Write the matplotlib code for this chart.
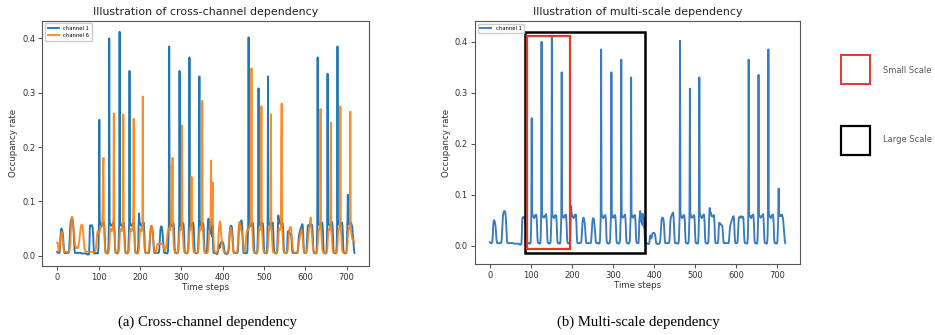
import numpy as np
import matplotlib
matplotlib.use("Agg")
import matplotlib.pyplot as plt
from matplotlib.patches import Rectangle

# Occupancy rate values in thousandths (one row = 24 time steps)
ch1_wk1 = [
    [7,6,5,5,5,5,6,15,35,46,50,49,47,44,38,28,15,7,5,5,5,5,5,5],
    [5,5,5,5,6,12,28,48,58,63,66,68,68,67,64,56,40,22,10,5,5,5,5,5],
    [5,5,5,5,5,5,5,5,5,5,4,4,4,4,4,4,4,4,4,4,4,4,4,3],
    [3,2,2,2,2,3,20,50,56,55,54,55,56,54,50,40,20,6,4,4,4,4,5,5],
    [5,4,4,5,18,55,250,66,60,58,57,55,54,56,58,60,58,61,55,40,15,6,5,5],
    [5,4,4,5,18,55,400,64,59,58,56,55,55,57,58,59,58,62,55,40,15,6,5,5],
    [5,4,4,5,8,30,58,412,65,59,57,56,54,55,57,59,58,60,56,42,16,6,5,5],
]
ch1_wk2 = [
    [5,4,4,5,8,30,58,340,63,58,57,55,55,56,58,60,57,61,56,42,16,6,5,5],
    [5,4,4,5,18,55,78,66,60,58,57,55,54,56,58,60,58,61,55,40,15,6,5,5],
    [5,5,5,5,5,5,6,10,22,38,48,54,55,54,50,44,35,22,10,5,5,5,5,5],
    [5,5,5,5,5,5,6,12,25,40,50,53,54,52,48,40,30,18,8,5,5,5,5,5],
    [5,4,4,5,8,30,58,385,65,59,57,56,54,55,57,59,58,60,56,42,16,6,5,5],
    [5,4,4,5,6,12,40,58,340,64,58,56,55,55,57,59,58,60,55,40,15,6,5,5],
    [5,4,4,5,6,12,40,58,365,62,58,57,55,56,57,58,59,61,55,40,15,6,5,5],
]
ch1_wk3 = [
    [5,4,4,5,6,12,40,58,330,64,58,56,55,55,57,59,58,60,55,40,15,6,5,5],
    [5,5,5,20,50,60,68,55,48,62,45,58,40,62,50,35,55,20,6,5,5,5,5,5],
    [4,3,3,3,4,10,18,20,17,14,16,21,24,25,25,25,25,24,22,18,10,5,4,4],
    [4,3,3,3,4,5,6,12,25,40,50,54,55,55,54,50,40,25,10,5,5,5,5,5],
    [5,5,5,5,5,8,20,40,52,56,58,60,62,64,65,60,45,25,10,5,5,5,5,5],
    [5,4,4,5,8,30,58,402,65,59,57,56,54,55,57,59,58,60,56,42,16,6,5,5],
    [5,4,4,5,8,30,58,308,64,60,57,55,55,56,57,58,59,60,56,42,16,6,5,5],
]
ch1_wk4 = [
    [5,4,4,5,18,55,330,66,60,58,57,55,54,56,58,60,58,61,55,40,15,6,5,5],
    [5,4,4,5,8,30,58,74,66,64,65,60,58,57,57,59,58,60,56,42,16,6,5,5],
    [5,5,5,5,10,30,44,45,44,43,42,41,40,40,38,30,15,6,5,5,5,5,5,5],
    [5,5,5,5,5,5,8,20,30,38,42,45,48,50,52,54,56,58,55,40,20,8,5,5],
    [5,5,5,8,25,45,55,56,55,55,56,58,56,55,55,56,57,55,40,20,8,5,5,5],
    [5,4,4,5,18,55,365,66,60,58,57,55,54,56,58,60,58,61,55,40,15,6,5,5],
    [5,4,4,5,18,55,335,64,59,58,56,55,55,57,58,59,58,62,55,40,15,6,5,5],
]
ch1_wk5 = [
    [5,4,4,5,18,55,385,66,60,58,57,55,54,56,58,60,58,61,55,40,15,6,5,5],
    [5,4,4,5,8,30,58,112,62,60,58,60,59,58,60,61,58,55,50,40,30,20,10,5],
]

ch6_wk1 = [
    [24,24,20,12,8,8,10,20,32,40,43,44,42,38,30,20,10,7,7,7,7,7,7,7],
    [7,7,7,7,7,8,10,15,28,45,60,68,72,70,62,52,44,36,28,22,18,15,14,15],
    [15,14,14,16,20,25,32,40,47,52,55,57,57,55,50,42,32,22,14,10,8,8,7,7],
    [7,7,7,7,7,7,7,7,7,7,7,7,7,7,7,7,7,7,7,7,8,10,15,25],
    [35,42,45,44,42,40,42,45,48,50,52,55,55,60,90,165,180,60,40,25,12,8,6,6],
    [6,5,5,5,6,8,15,30,45,50,48,46,45,47,50,55,70,262,55,35,18,9,6,6],
    [6,5,5,5,6,8,15,30,45,50,48,46,45,47,50,60,260,55,38,22,12,8,6,6],
]
ch6_wk2 = [
    [6,5,5,5,6,8,15,30,45,50,48,46,45,47,50,55,75,252,55,35,18,9,6,6],
    [6,5,5,5,6,8,15,30,45,50,48,46,45,50,60,293,60,45,30,18,10,7,6,6],
    [6,5,5,5,6,8,12,20,30,40,48,52,55,54,50,42,32,22,14,10,8,7,6,6],
    [12,18,20,22,22,22,21,22,22,23,22,21,22,22,22,21,20,18,14,10,8,8,10,15],
    [20,28,35,40,45,48,50,48,46,47,50,60,80,165,100,180,55,38,22,12,8,6,6,6],
    [6,5,5,5,6,10,20,35,45,50,48,47,55,70,240,55,40,25,14,8,6,6,6,6],
    [6,5,5,5,6,10,20,35,45,50,48,50,60,145,55,40,25,14,8,6,6,6,6,6],
]
ch6_wk3 = [
    [6,5,5,5,6,10,20,35,45,50,48,47,50,55,70,285,55,40,25,14,8,6,6,6],
    [6,5,5,5,6,10,20,35,45,50,55,70,175,60,55,90,135,50,35,20,10,7,6,6],
    [6,5,5,6,8,15,30,45,55,62,63,58,45,35,30,25,20,15,10,8,6,6,6,6],
    [6,5,5,5,6,8,12,20,30,40,47,50,52,50,45,38,28,18,10,7,6,6,6,6],
    [6,5,5,6,10,20,35,50,58,62,58,52,48,46,45,42,38,30,20,12,8,7,8,15],
    [25,35,42,46,48,47,46,48,50,52,55,60,65,75,345,60,42,28,15,8,6,6,6,6],
    [6,5,5,5,6,10,20,35,45,50,48,47,50,60,275,55,40,25,14,8,6,6,6,6],
]
ch6_wk4 = [
    [6,5,5,5,6,10,20,35,45,50,48,52,60,260,55,40,25,14,8,6,6,6,6,6],
    [6,5,5,5,6,10,20,35,45,50,48,47,50,55,210,280,55,40,25,14,8,6,6,6],
    [6,5,5,5,6,8,12,22,35,45,50,52,53,52,48,40,30,20,12,8,6,6,6,6],
    [6,5,5,5,6,8,10,15,20,25,30,35,40,44,47,48,46,40,30,18,10,7,6,6],
    [6,5,5,6,8,15,25,35,42,48,52,58,65,70,62,50,40,30,20,12,8,6,6,6],
    [6,5,5,5,6,10,20,35,45,50,48,52,60,270,55,40,25,14,8,6,6,6,6,6],
    [6,5,5,5,6,10,20,35,45,50,48,47,55,165,245,55,40,25,14,8,6,6,6,6],
]
ch6_wk5 = [
    [6,5,5,5,6,10,20,35,45,50,48,52,60,275,55,40,25,14,8,6,6,6,6,6],
    [6,5,5,5,6,10,20,35,45,50,48,52,60,265,60,45,40,35,30,30,28,26,25,25],
]

small_scale_span = (90, 194.5, -0.007, 0.412)
large_scale_span = (85, 378.5, -0.0143, 0.419)

ch1 = np.concatenate([np.ravel(w) for w in (ch1_wk1, ch1_wk2, ch1_wk3, ch1_wk4, ch1_wk5)]) / 1000.0
ch6 = np.concatenate([np.ravel(w) for w in (ch6_wk1, ch6_wk2, ch6_wk3, ch6_wk4, ch6_wk5)]) / 1000.0
t = np.arange(len(ch1))

W, H = 935, 335
fig = plt.figure(figsize=(W / 100, H / 100), dpi=100)
fig.patch.set_facecolor("white")

def px_axes(l, r, top, bot):
    return fig.add_axes([l / W, 1 - bot / H, (r - l) / W, (bot - top) / H])

ax1 = px_axes(42.3, 369.3, 20.7, 265.7)
ax2 = px_axes(475, 800, 21, 264)

fs_tick = 6
for ax in (ax1, ax2):
    ax.tick_params(labelsize=fs_tick, length=3, width=0.6, pad=2, colors="#333333")
    for s in ax.spines.values():
        s.set_color("#555555")
        s.set_linewidth(0.8)
    ax.set_xlabel("Time steps", fontsize=6.2, labelpad=1, color="#333333")
    ax.set_ylabel("Occupancy rate", fontsize=6.2, labelpad=3, color="#333333")
    ax.set_xticks([0, 100, 200, 300, 400, 500, 600, 700])
    ax.set_yticks([0.0, 0.1, 0.2, 0.3, 0.4])

ax1.plot(t, ch1, color="#1f77b4", lw=1.35, label="channel 1")
ax1.plot(t, ch6, color="#ff7f0e", lw=1.35, label="channel 6", alpha=0.9)
ax1.set_title("Illustration of cross-channel dependency", fontsize=7.9, pad=4, color="#222222")
ax1.legend(loc="upper left", fontsize=3.8, handlelength=2.2, borderpad=0.5,
           labelspacing=0.4, framealpha=1, edgecolor="#cccccc", fancybox=True)

ax2.plot(t, ch1, color="#3a7abd", lw=1.35, label="channel 1")
ax2.set_title("Illustration of multi-scale dependency", fontsize=7.9, pad=4, color="#222222")
ax2.legend(loc="upper left", fontsize=3.8, handlelength=2.2, borderpad=0.4,
           framealpha=1, edgecolor="#cccccc", fancybox=True)

x0, x1, y0, y1 = large_scale_span
ax2.add_patch(Rectangle((x0, y0), x1 - x0, y1 - y0, fill=False, ec="black", lw=1.8, clip_on=False, zorder=5))
x0, x1, y0, y1 = small_scale_span
ax2.add_patch(Rectangle((x0, y0), x1 - x0, y1 - y0, fill=False, ec="#e2382a", lw=1.6, clip_on=False, zorder=6))

# side legend for scales
fig.add_artist(Rectangle((840.7 / W, 1 - 84.3 / H), 29.3 / W, 29.3 / H, transform=fig.transFigure,
                         fill=False, ec="#e2382a", lw=1.4))
fig.add_artist(Rectangle((840.7 / W, 1 - 155 / H), 29.3 / W, 29.3 / H, transform=fig.transFigure,
                         fill=False, ec="black", lw=1.6))
fig.text(883 / W, 1 - 70.7 / H, "Small Scale", fontsize=6, color="#555555", va="center", ha="left")
fig.text(883 / W, 1 - 140 / H, "Large Scale", fontsize=6, color="#555555", va="center", ha="left")

# captions
fig.text(207 / W, 1 - 322 / H, "(a) Cross-channel dependency", fontsize=10.6,
         family="Liberation Serif", ha="center", va="center")
fig.text(638 / W, 1 - 322 / H, "(b) Multi-scale dependency", fontsize=10.6,
         family="Liberation Serif", ha="center", va="center")

fig.savefig("out.png", dpi=100)
